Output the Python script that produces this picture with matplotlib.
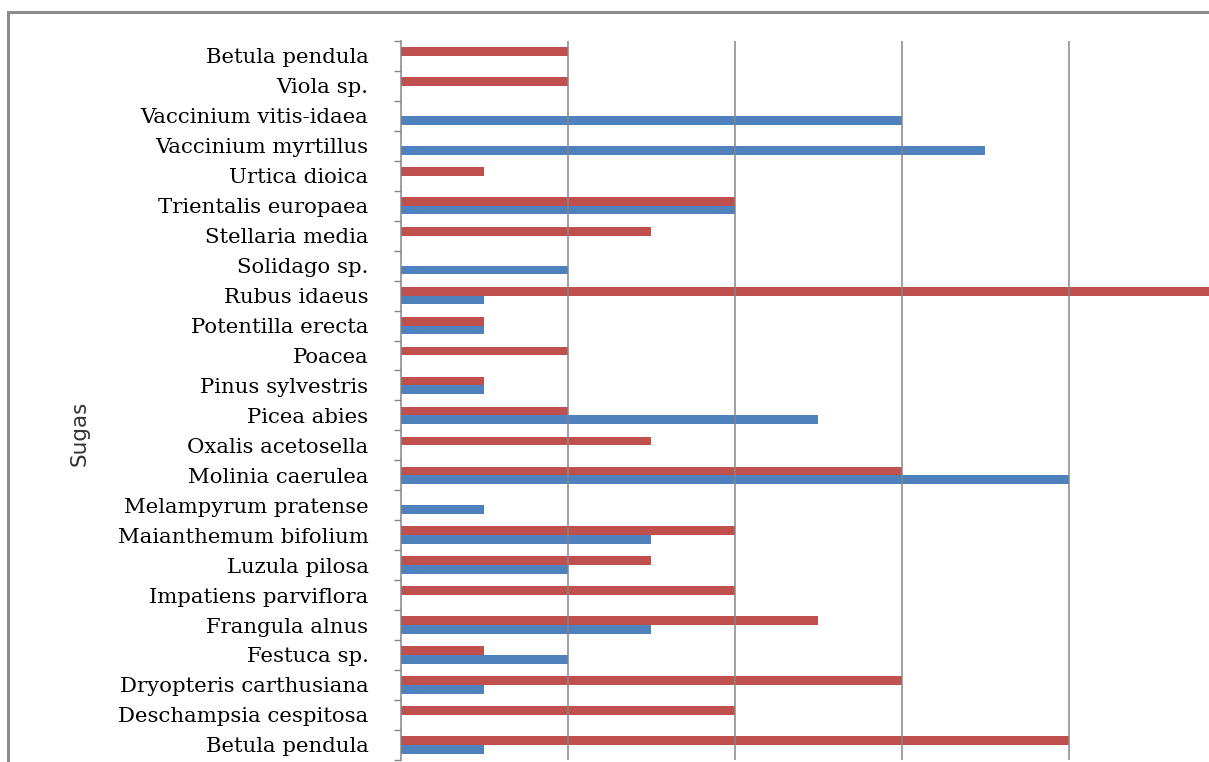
import matplotlib
matplotlib.use('Agg')
import matplotlib.pyplot as plt
from matplotlib.patches import Rectangle
import numpy as np

# categories listed bottom -> top (as plotted)
species = ['Betula pendula', 'Deschampsia cespitosa', 'Dryopteris carthusiana', 'Festuca sp.',
           'Frangula alnus', 'Impatiens parviflora', 'Luzula pilosa', 'Maianthemum bifolium',
           'Melampyrum pratense', 'Molinia caerulea', 'Oxalis acetosella', 'Picea abies',
           'Pinus sylvestris', 'Poacea', 'Potentilla erecta', 'Rubus idaeus', 'Solidago sp.',
           'Stellaria media', 'Trientalis europaea', 'Urtica dioica', 'Vaccinium myrtillus',
           'Vaccinium vitis-idaea', 'Viola sp.', 'Betula pendula']
red_vals = [4, 2, 3, 0.5, 2.5, 2, 1.5, 2, 0, 3, 1.5, 1, 0.5, 1, 0.5, 5, 0, 1.5, 2, 0.5, 0, 0, 1, 1]
blue_vals = [0.5, 0, 0.5, 1, 1.5, 0, 1, 1.5, 0.5, 4, 0, 2.5, 0.5, 0, 0.5, 0.5, 1, 0, 2, 0, 3.5, 3, 0, 0]

W, H = 1209, 762
fig = plt.figure(figsize=(W / 100, H / 100), dpi=100)

# outer chart frame (cropped by the picture edges)
fig.add_artist(Rectangle((7.5 / W, -0.1), 1.2, (H - 11.5) / H + 0.1, transform=fig.transFigure,
                         fill=False, edgecolor='#8c8c8c', linewidth=2.2, clip_on=False))

x0, unit = 400.5, 167.0
top, band = 41.0, 29.95
n = len(species)
ax = fig.add_axes([x0 / W, (H - top - n * band) / H, 5 * unit / W, n * band / H])

y = np.arange(n)
h = 0.29
ax.barh(y + h / 2, red_vals, height=h, color='#C0504D', edgecolor='none')
ax.barh(y - h / 2, blue_vals, height=h, color='#4F81BD', edgecolor='none')

ax.set_xlim(0, 5)
ax.set_ylim(-0.5, n - 0.5)
ax.set_xticks([1, 2, 3, 4, 5])
ax.xaxis.grid(True, color='#868686', linewidth=1.1)
ax.set_axisbelow(False)
ax.tick_params(axis='x', length=0, labelbottom=False)

ax.set_yticks(y)
ax.set_yticklabels(species, family='DejaVu Serif', fontsize=15.3)
ax.set_yticks(np.arange(n + 1) - 0.5, minor=True)
ax.tick_params(axis='y', which='major', length=0, pad=23)
ax.tick_params(axis='y', which='minor', length=5, width=1, color='#868686')
for lbl in ax.get_yticklabels():
    lbl.set_va('center_baseline')

for s in ['top', 'right', 'bottom']:
    ax.spines[s].set_visible(False)
ax.spines['left'].set_color('#868686')
ax.spines['left'].set_linewidth(1.1)

fig.text(80 / W, 1 - 433 / H, 'Sugas', rotation=90, ha='center', va='center',
         family='DejaVu Sans', fontsize=15.5, color='#333333')

fig.savefig('out.png', dpi=100)
